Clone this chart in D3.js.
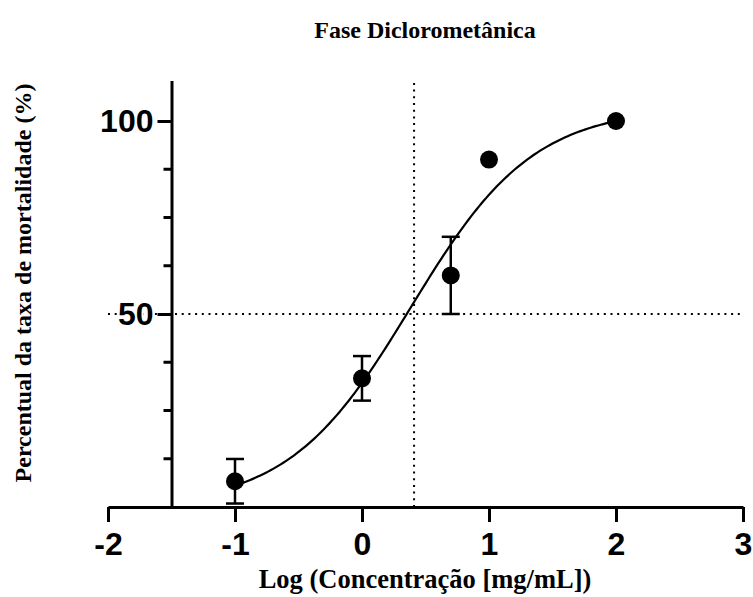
<!DOCTYPE html>
<html><head><meta charset="utf-8">
<script src="https://cdn.jsdelivr.net/npm/d3@7"></script>
<style>body{margin:0;background:#fff}svg{display:block}</style>
</head><body>
<svg id="c" width="753" height="597"></svg>
<script>
// ---- data ----
const logConc = [-1, 0, 0.699, 1, 2];
const mortality = [6.67, 33.33, 60, 90, 100];
const errorSD = [5.77, 5.77, 10, 0, 0];
const xTicks = [-2, -1, 0, 1, 2, 3];
const yMajorTicks = [50, 100];
const yMinorTicks = [12.5, 25, 37.5, 62.5, 75, 87.5];
// fitted dose-response curve parameters
const fitTop = 103.5, fitBottom = 0, fitLogIC50 = 0.385, fitHill = 0.9;
const refLineX = 0.41, refLineY = 50;
const title = "Fase Diclorometânica";
const xTitle = "Log (Concentração [mg/mL])";
const yTitle = "Percentual da taxa de mortalidade (%)";

const svg = d3.select("#c");
const x = d3.scaleLinear().domain([-2, 3]).range([108, 743]);
const y = d3.scaleLinear().domain([0, 100]).range([507, 121]);
const yTop = 110.5, yAxisAt = -1.5;
const black = "#000";

// dotted reference lines
svg.append("line").attr("x1", x(-2)).attr("x2", x(3)).attr("y1", y(refLineY)).attr("y2", y(refLineY))
  .attr("stroke", black).attr("stroke-width", 2).attr("stroke-dasharray", "2,4.7");
svg.append("line").attr("x1", x(refLineX)).attr("x2", x(refLineX)).attr("y1", y(0)).attr("y2", y(yTop))
  .attr("stroke", black).attr("stroke-width", 2).attr("stroke-dasharray", "2,4.7");

// x axis
const xAxis = d3.axisBottom(x).tickValues(xTicks).tickSize(15).tickSizeOuter(0).tickFormat(d3.format("d"));
const gx = svg.append("g").attr("transform", `translate(0,${y(0)})`).call(xAxis);
gx.select(".domain").attr("stroke-width", 3);
gx.selectAll(".tick line").attr("stroke-width", 3);
gx.selectAll(".tick text").attr("font-family", "Liberation Sans, Arial, sans-serif").attr("font-weight", "bold")
  .attr("font-size", 32).attr("fill", black).attr("dy", "0.71em").attr("y", 25).text(d => d < 0 ? "-" + Math.abs(d) : d);

// y axis
const yAxisScale = d3.scaleLinear().domain([0, yTop]).range([y(0), y(yTop)]);
const gy = svg.append("g").attr("transform", `translate(${x(yAxisAt)},0)`)
  .call(d3.axisLeft(yAxisScale).tickValues(yMajorTicks).tickSize(14).tickSizeOuter(0));
gy.select(".domain").attr("stroke-width", 3);
gy.selectAll(".tick line").attr("stroke-width", 3);
gy.selectAll(".tick text").attr("font-family", "Liberation Sans, Arial, sans-serif").attr("font-weight", "bold")
  .attr("font-size", 32).attr("fill", black).attr("x", -18)
  .attr("stroke", "#fff").attr("stroke-width", 4).attr("paint-order", "stroke");
gy.selectAll(".minor").data(yMinorTicks).enter().append("line").attr("class", "minor")
  .attr("x1", -8).attr("x2", 0).attr("y1", d => yAxisScale(d)).attr("y2", d => yAxisScale(d))
  .attr("stroke", black).attr("stroke-width", 3);

// fitted curve
const curveX = d3.range(-1, 2.0001, 0.02);
const f = v => fitBottom + (fitTop - fitBottom) / (1 + Math.pow(10, (fitLogIC50 - v) * fitHill));
svg.append("path").datum(curveX)
  .attr("d", d3.line().x(v => x(v)).y(v => y(f(v))).curve(d3.curveLinear))
  .attr("fill", "none").attr("stroke", black).attr("stroke-width", 2.2);

// error bars
const pts = logConc.map((v, i) => ({x: v, m: mortality[i], e: errorSD[i]}));
const eb = svg.append("g").selectAll("g").data(pts.filter(d => d.e > 0)).enter().append("g");
eb.append("line").attr("x1", d => x(d.x)).attr("x2", d => x(d.x)).attr("y1", d => y(d.m - d.e)).attr("y2", d => y(d.m + d.e))
  .attr("stroke", black).attr("stroke-width", 2.5);
[-1, 1].forEach(s => {
  eb.append("line").attr("x1", d => x(d.x) - 9).attr("x2", d => x(d.x) + 9)
    .attr("y1", d => y(d.m + s * d.e)).attr("y2", d => y(d.m + s * d.e))
    .attr("stroke", black).attr("stroke-width", 2.5);
});

// points
svg.append("g").selectAll("circle").data(pts).enter().append("circle")
  .attr("cx", d => x(d.x)).attr("cy", d => y(d.m)).attr("r", 9).attr("fill", black);

// titles
svg.append("text").attr("x", 425).attr("y", 38).attr("text-anchor", "middle")
  .attr("font-family", "Liberation Serif, Times New Roman, serif").attr("font-weight", "bold").attr("font-size", 24)
  .text(title);
svg.append("text").attr("x", 425).attr("y", 588).attr("text-anchor", "middle")
  .attr("font-family", "Liberation Serif, Times New Roman, serif").attr("font-weight", "bold").attr("font-size", 26.5)
  .text(xTitle);
svg.append("text").attr("transform", "translate(31,283) rotate(-90)").attr("text-anchor", "middle")
  .attr("font-family", "Liberation Serif, Times New Roman, serif").attr("font-weight", "bold").attr("font-size", 24)
  .text(yTitle);
</script>
</body></html>
